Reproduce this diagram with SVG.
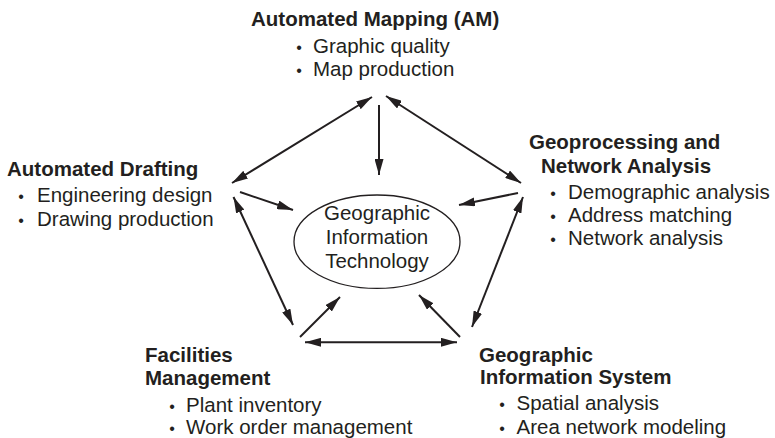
<svg xmlns="http://www.w3.org/2000/svg" width="775" height="438" viewBox="0 0 775 438">
<style>
text{font-family:"Liberation Sans",Arial,Helvetica,sans-serif;font-size:20.5px;fill:#231f20}
.t{font-weight:bold}
.b{font-size:16px}
.c{text-anchor:middle}
.ln{stroke:#231f20;stroke-width:2;fill:none}
</style>
<defs>
<marker id="ah" viewBox="0 0 16 9" refX="16" refY="4.5" markerWidth="16" markerHeight="9" markerUnits="userSpaceOnUse" orient="auto-start-reverse">
<path d="M0,0 L16,4.5 L0,9 z" fill="#231f20"/>
</marker>
</defs>
<g id="center">
<ellipse cx="377" cy="241.7" rx="83" ry="46.7" fill="#fff" stroke="#231f20" stroke-width="1.3"/>
<text class="c" x="377" y="220">Geographic</text>
<text class="c" x="377" y="244">Information</text>
<text class="c" x="377" y="267.5">Technology</text>
</g>
<g id="am">
<text class="t" x="251" y="26">Automated Mapping (AM)</text>
<text class="b c" x="299" y="53">•</text><text x="313" y="53">Graphic quality</text>
<text class="b c" x="299" y="76">•</text><text x="313" y="76">Map production</text>
</g>
<g id="ad">
<text class="t" x="7" y="176">Automated Drafting</text>
<text class="b c" x="21" y="202">•</text><text x="37" y="202">Engineering design</text>
<text class="b c" x="21" y="226">•</text><text x="37" y="226">Drawing production</text>
</g>
<g id="geo">
<text class="t" x="529" y="149">Geoprocessing and</text>
<text class="t" x="541" y="172.5">Network Analysis</text>
<text class="b c" x="553" y="199">•</text><text x="568" y="199">Demographic analysis</text>
<text class="b c" x="553" y="222">•</text><text x="568" y="222">Address matching</text>
<text class="b c" x="553" y="245">•</text><text x="568" y="245">Network analysis</text>
</g>
<g id="fm">
<text class="t" x="145" y="361.5">Facilities</text>
<text class="t" x="145" y="384.5">Management</text>
<text class="b c" x="172" y="411.5">•</text><text x="186" y="411.5">Plant inventory</text>
<text class="b c" x="172" y="434">•</text><text x="186" y="434">Work order management</text>
</g>
<g id="gis">
<text class="t" x="479" y="361.5">Geographic</text>
<text class="t" x="480" y="384">Information System</text>
<text class="b c" x="502" y="410">•</text><text x="516.5" y="410">Spatial analysis</text>
<text class="b c" x="502" y="433.5">•</text><text x="516.5" y="433.5">Area network modeling</text>
</g>
<g id="connectors" class="ln">
<line x1="372" y1="97" x2="232" y2="183" marker-start="url(#ah)" marker-end="url(#ah)"/>
<line x1="379" y1="105" x2="379" y2="175" marker-end="url(#ah)"/>
<line x1="386" y1="96" x2="521" y2="183" marker-start="url(#ah)" marker-end="url(#ah)"/>
<line x1="240" y1="192" x2="293" y2="210" marker-end="url(#ah)"/>
<line x1="518" y1="193" x2="459" y2="205" marker-end="url(#ah)"/>
<line x1="233.5" y1="197" x2="293" y2="325" marker-start="url(#ah)" marker-end="url(#ah)"/>
<line x1="523" y1="197" x2="472" y2="327" marker-start="url(#ah)" marker-end="url(#ah)"/>
<line x1="300" y1="337" x2="340" y2="297" marker-end="url(#ah)"/>
<line x1="460" y1="337" x2="419" y2="295" marker-end="url(#ah)"/>
<line x1="305" y1="342.3" x2="457" y2="342.3" marker-start="url(#ah)" marker-end="url(#ah)"/>
</g>
</svg>
